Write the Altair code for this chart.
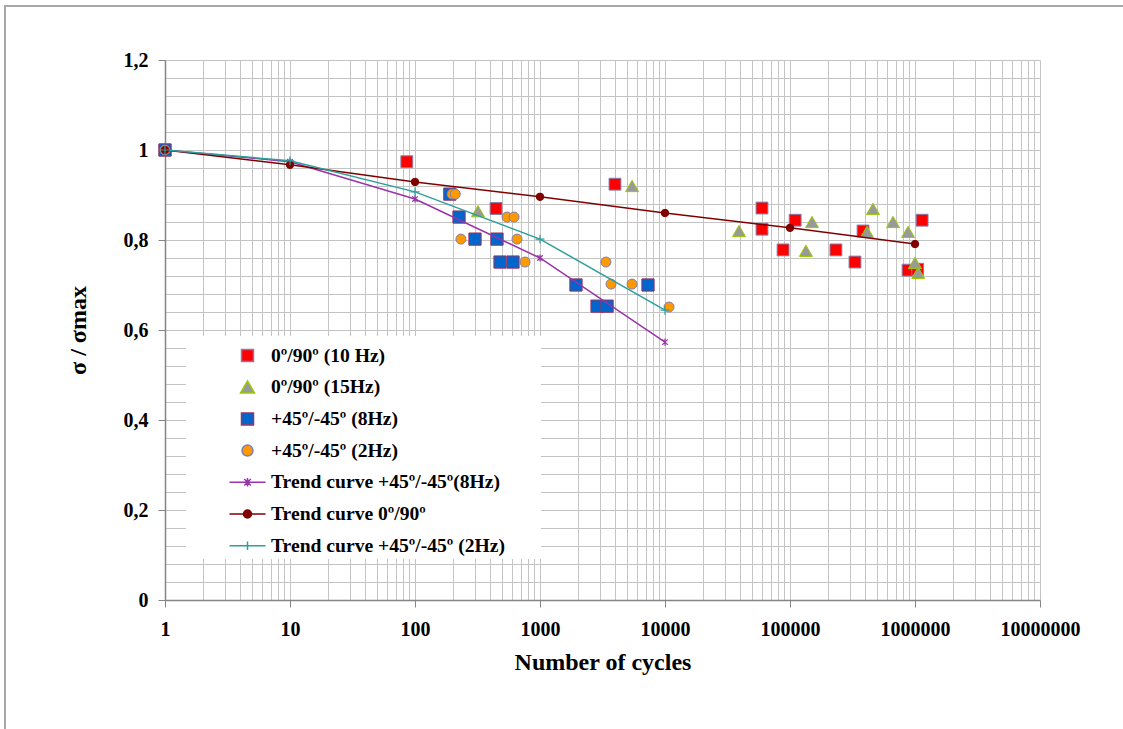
import altair as alt
import pandas as pd

# ---- measured fatigue data: number of cycles vs normalised stress ----
red_n = [1, 86, 445, 3980, 59700, 59700, 88000, 110000, 233000, 331000, 384000, 880000, 1050000, 1140000]
red_s = [1.0, 0.974, 0.87, 0.924, 0.871, 0.824, 0.778, 0.844, 0.778, 0.751, 0.82, 0.733, 0.735, 0.844]

tri_n = [1, 319, 5450, 39100, 134000, 150000, 413000, 461000, 667000, 880000, 1000000, 1060000]
tri_s = [1.0, 0.864, 0.92, 0.82, 0.776, 0.84, 0.818, 0.869, 0.84, 0.818, 0.749, 0.727]

blue_n = [1, 190, 225, 302, 453, 479, 608, 1940, 2860, 3440, 7310]
blue_s = [1.0, 0.902, 0.851, 0.802, 0.802, 0.751, 0.751, 0.70, 0.653, 0.653, 0.70]

orange_n = [1, 198, 210, 233, 545, 620, 655, 759, 3370, 3700, 5450, 10770]
orange_s = [1.0, 0.902, 0.902, 0.802, 0.851, 0.851, 0.802, 0.751, 0.751, 0.702, 0.702, 0.651]

# ---- trend curves ----
trend45_n = [1, 10, 100, 1000, 10000]
trend8_s = [1.0, 0.974, 0.891, 0.76, 0.573]
trend2_s = [1.0, 0.976, 0.907, 0.802, 0.644]
trend090_n = [1, 10, 100, 1000, 10000, 100000, 1000000]
trend090_s = [1.0, 0.967, 0.929, 0.896, 0.86, 0.827, 0.791]

names = [
    "0º/90º (10 Hz)",
    "0º/90º (15Hz)",
    "+45º/-45º (8Hz)",
    "+45º/-45º (2Hz)",
    "Trend curve +45º/-45º(8Hz)",
    "Trend curve 0º/90º",
    "Trend curve +45º/-45º (2Hz)",
]

# ---- axis ticks and gridlines ----
x_major = [1, 10, 100, 1000, 10000, 100000, 1000000, 10000000]
x_minor = [m * 10 ** k for k in range(7) for m in range(1, 10)] + [10000000]
y_major = [0, 0.2, 0.4, 0.6, 0.8, 1.0, 1.2]
y_minor = [round(i * 0.04, 2) for i in range(31)]

FONT = "Liberation Serif"
GRID = "#C4C4C4"
AXIS = "#858585"

x_scale = alt.Scale(type="log", domain=[1, 10000000], nice=False)
y_scale = alt.Scale(domain=[0, 1.2], nice=False, zero=False)

# axes with labels (carried by one layer only)
x_main = alt.X(
    "n:Q", scale=x_scale,
    axis=alt.Axis(
        orient="bottom", values=x_major, format="d", grid=False, tickSize=7,
        tickColor=AXIS, domainColor=AXIS, domainWidth=1.5, labelPadding=12,
        labelFlush=False, labelOverlap=False,
        labelFontSize=20, labelFont=FONT, labelFontWeight="bold", labelColor="black",
        title="Number of cycles", titleFont=FONT, titleFontSize=24,
        titleFontWeight="bold", titleColor="black", titlePadding=11,
    ),
)
y_main = alt.Y(
    "s:Q", scale=y_scale,
    axis=alt.Axis(
        orient="left", values=y_major, grid=False, tickSize=7, tickColor=AXIS,
        domainColor=AXIS, domainWidth=1.5, labelPadding=10, labelFontSize=20,
        labelFlush=False, labelOverlap=False,
        labelFont=FONT, labelFontWeight="bold", labelColor="black",
        labelExpr="replace(format(datum.value, '.1~f'), '.', ',')",
        title="σ / σmax", titleFont=FONT, titleFontSize=24,
        titleFontWeight="bold", titleColor="black", titlePadding=33,
    ),
)
# gridlines only (carried by one other layer)
x_grid = alt.X(
    "n:Q", scale=x_scale,
    axis=alt.Axis(orient="top", values=x_minor, grid=True, gridColor=GRID,
                  gridWidth=1, labels=False, ticks=False, domain=False, title=None),
)
y_grid = alt.Y(
    "s:Q", scale=y_scale,
    axis=alt.Axis(orient="right", values=y_minor, grid=True, gridColor=GRID,
                  gridWidth=1, labels=False, ticks=False, domain=False, title=None),
)
# every remaining layer: same scales, no axis of its own
x_plain = alt.X("n:Q", scale=x_scale, axis=None)
y_plain = alt.Y("s:Q", scale=y_scale, axis=None)


def table(n, s):
    return pd.DataFrame({"n": n, "s": s})


one_row = pd.DataFrame({"k": [0]})

# outer frame of the figure
frame = alt.Chart(one_row).mark_rect(
    fillOpacity=0, stroke="#A8A8A8", strokeWidth=2
).encode(x=alt.value(-160), x2=alt.value(980), y=alt.value(-54), y2=alt.value(690))

grid = alt.Chart(table(trend090_n, trend090_s)).mark_point(opacity=0).encode(x=x_grid, y=y_grid)

# white panel behind the legend
LEG_X, LEG_Y = 21, 276
panel = alt.Chart(one_row).mark_rect(fill="white", stroke=None).encode(
    x=alt.value(LEG_X), x2=alt.value(LEG_X + 355),
    y=alt.value(LEG_Y), y2=alt.value(LEG_Y + 223),
)


def points(n, s, shape, size, fill, stroke, x=x_plain, y=y_plain):
    return alt.Chart(table(n, s)).mark_point(
        shape=shape, size=size, filled=True, fill=fill, stroke=stroke,
        strokeWidth=1, opacity=1,
    ).encode(x=x, y=y)


red = points(red_n, red_s, "square", 140, "#FF0000", "#7F7FB0", x=x_main, y=y_main)
tri = points(tri_n, tri_s, "triangle-up", 170, "#999999", "#99CC00")
blue = points(blue_n, blue_s, "square", 150, "#0066CC", "#993366")
orange = points(orange_n, orange_s, "circle", 100, "#FF9900", "#7F7FB0")

PURPLE = "#9933AA"
DARKRED = "#800000"
TEAL = "#2E9E9E"


def trend(n, s, color):
    return alt.Chart(table(n, s)).mark_line(stroke=color, strokeWidth=1.5).encode(x=x_plain, y=y_plain)


line8 = trend(trend45_n, trend8_s, PURPLE)
line090 = trend(trend090_n, trend090_s, DARKRED)
line2 = trend(trend45_n, trend2_s, TEAL)

star8 = alt.Chart(table(trend45_n, trend8_s)).mark_point(
    shape="M-1,-1L1,1M-1,1L1,-1M0,-1.3V1.3", size=30, filled=False,
    stroke=PURPLE, strokeWidth=1.2, opacity=1,
).encode(x=x_plain, y=y_plain)
dot090 = alt.Chart(table(trend090_n, trend090_s)).mark_point(
    shape="circle", size=55, filled=True, fill=DARKRED, stroke=DARKRED,
    strokeWidth=1, opacity=1,
).encode(x=x_plain, y=y_plain)
plus2 = alt.Chart(table(trend45_n, trend2_s)).mark_point(
    shape="M-1,0H1M0,-1V1", size=80, filled=False,
    stroke=TEAL, strokeWidth=1.2, opacity=1,
).encode(x=x_plain, y=y_plain)

# legend symbols (unit = 12.5 px)
sq = "M-0.48,-0.48H0.48V0.48H-0.48Z"
legend_shapes = [
    sq,
    "M0,-0.5L0.56,0.46H-0.56Z",
    sq,
    "M-0.44,0A0.44,0.44,0,1,0,0.44,0A0.44,0.44,0,1,0,-0.44,0Z",
    "M-1.44,0H1.44M-0.26,-0.26L0.26,0.26M-0.26,0.26L0.26,-0.26M0,-0.34V0.34",
    "M-1.44,0H1.44M-0.32,0A0.32,0.32,0,1,0,0.32,0A0.32,0.32,0,1,0,-0.32,0Z",
    "M-1.44,0H1.44M0,-0.34V0.34",
]
legend_fills = ["#FF0000", "#999999", "#0066CC", "#FF9900", PURPLE, DARKRED, TEAL]
legend_strokes = ["#7F7FB0", "#99CC00", "#993366", "#7F7FB0", PURPLE, DARKRED, TEAL]

leg = alt.Legend(
    title=None, orient="none", legendX=LEG_X, legendY=LEG_Y,
    padding=6, symbolOffset=42, labelOffset=10, rowPadding=7.7,
    symbolSize=625, symbolStrokeWidth=1.5, labelFont=FONT, labelFontSize=19.6,
    labelFontWeight="bold", labelColor="black", labelLimit=500,
)

key = alt.Chart(
    pd.DataFrame({"n": [None] * len(names), "s": [None] * len(names), "series": names})
).mark_point(filled=True, opacity=1, size=625, strokeWidth=1.5).encode(
    x=x_plain, y=y_plain,
    shape=alt.Shape("series:N", scale=alt.Scale(domain=names, range=legend_shapes), legend=leg),
    fill=alt.Fill("series:N", scale=alt.Scale(domain=names, range=legend_fills), legend=leg),
    stroke=alt.Stroke("series:N", scale=alt.Scale(domain=names, range=legend_strokes), legend=leg),
)

chart = alt.layer(
    frame, grid, panel, red, tri, blue, orange,
    line8, line090, line2, star8, dot090, plus2, key,
).properties(
    width=875, height=540,
    autosize=alt.AutoSizeParams(type="none"),
    padding={"left": 165, "top": 60, "right": 83, "bottom": 129},
    background="white",
).configure_view(stroke=None)

chart.save("out.html", embed_options={"renderer": "svg", "actions": False})
